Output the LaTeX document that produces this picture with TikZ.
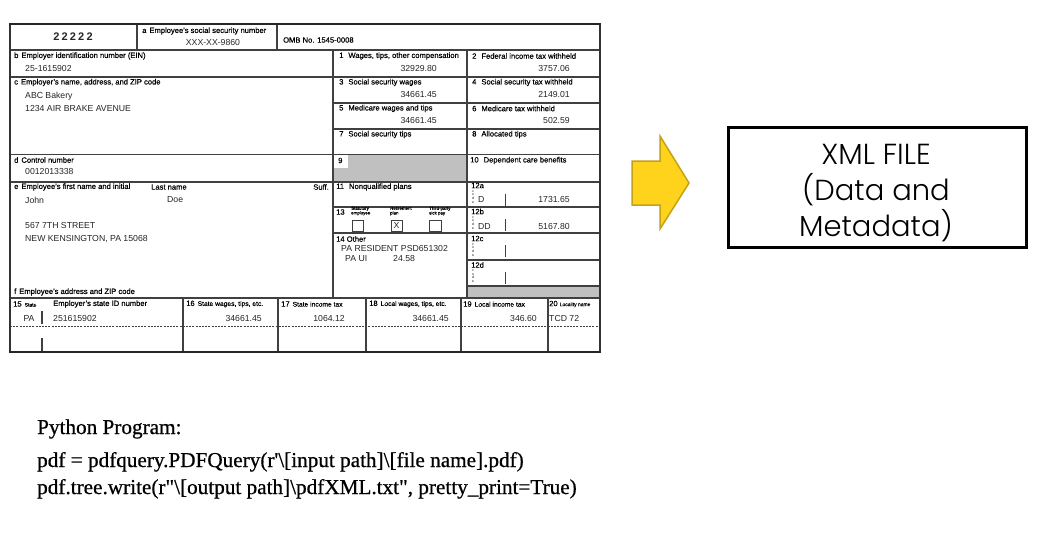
\documentclass[tikz,border=0pt]{standalone}
\usepackage{fontspec}
\setmainfont{Liberation Serif}
\newfontfamily\pyfont[FakeBold=0.7]{Liberation Serif}
\newfontfamily\formfont{Liberation Sans}
\newfontfamily\lblfont[FakeBold=0.4]{Liberation Sans}
\newfontfamily\xmlfont{Poppins Light}
\definecolor{boxgray}{RGB}{192,192,192}
\definecolor{arrowfill}{RGB}{255,210,28}
\definecolor{arrowedge}{RGB}{196,162,20}
\tikzset{
  lbl/.style={anchor=west, inner sep=0pt, font=\lblfont\fontsize{7.6}{8}\selectfont},
  val/.style={anchor=west, inner sep=0pt, font=\formfont\fontsize{8.7}{10}\selectfont, text=black!85},
  valr/.style={val, anchor=east},
  tinylbl/.style={anchor=north west, inner sep=0pt, align=left, font=\lblfont\fontsize{4.4}{4.6}\selectfont},
  codes/.style={anchor=north, inner sep=0pt, align=center, font=\formfont\fontsize{3.4}{3.7}\selectfont},
  grid/.style={draw=black!75, line width=1.2pt},
  frameline/.style={draw=black!85, line width=2.2pt},
  sideline/.style={draw=black!80, line width=1.5pt},
  chk/.style={draw=black!75, line width=0.8pt},
  py/.style={anchor=base west, inner sep=0pt, font=\pyfont\fontsize{21.2}{24}\selectfont},
  xmlbox/.style={draw=black, line width=3pt, minimum width=298pt, minimum height=120pt, inner sep=0pt},
  xmltext/.style={align=center, inner sep=0pt, font=\xmlfont\fontsize{29}{36}\selectfont}
}
\newcommand{\sm}[1]{{\fontsize{6.7}{7}\selectfont #1}}
\newcommand{\xs}[1]{{\fontsize{5}{5}\selectfont #1}}
\begin{document}
\begin{tikzpicture}[x=1pt,y=-1pt]
\useasboundingbox (0,0) rectangle (1039,546);
\fill[white] (0,0) rectangle (1039,546);

% ---------- gray areas ----------
\fill[boxgray] (348,155) rectangle (467,182);
\fill[boxgray] (333,168) rectangle (348,182);
\fill[boxgray] (467,286) rectangle (600,298);

% ---------- form rules ----------
\draw[grid] (137,24) -- (137,50);
\draw[grid] (277,24) -- (277,50);
\draw[grid] (10,50) -- (600,50);
\draw[grid] (333,50) -- (333,298);
\draw[grid] (467,50) -- (467,298);
\draw[grid] (10,77) -- (600,77);
\draw[grid] (333,103) -- (600,103);
\draw[grid] (333,129) -- (600,129);
\draw[grid] (10,154.5) -- (600,154.5);
\draw[grid] (10,182) -- (600,182);
\draw[grid] (333,207) -- (600,207);
\draw[grid] (333,233) -- (600,233);
\draw[grid] (467,260) -- (600,260);
\draw[grid] (467,286) -- (600,286);
\draw[grid] (10,298) -- (600,298);
\foreach \xx in {183,278,366,461,548} \draw[grid] (\xx,298) -- (\xx,352);
\draw[grid] (42,311) -- (42,324);
\draw[grid] (42,338) -- (42,352);
\draw[draw=black!75, line width=0.9pt, dash pattern=on 2pt off 1.2pt] (10,326) -- (600,326);
\foreach \yy in {182,207,233,260} \draw[draw=black!75, line width=0.9pt] (505,\yy+12) -- (505,\yy+24);
% frame
\draw[sideline] (10,24) -- (10,352);
\draw[sideline] (600,24) -- (600,352);
\draw[frameline] (9,24) -- (601,24);
\draw[frameline] (9,352) -- (601,352);

% check boxes
\draw[chk] (352,220) rectangle (363,231);
\draw[chk] (391,220) rectangle (402,231);
\draw[chk] (429,220) rectangle (441,231);

% ---------- top row ----------
\node[inner sep=0pt, font=\formfont\bfseries\fontsize{11}{12}\selectfont, text=black!85] (n22222) at (73,37) {2\hspace{2.2pt}2\hspace{2.2pt}2\hspace{2.2pt}2\hspace{2.2pt}2};
\node[lbl] (la) at (142,31) {a\hspace{3pt}Employee’s social security number};
\node[val, anchor=center] (va) at (213,42.5) {XXX-XX-9860};
\node[lbl] (omb) at (283,40) {OMB No. 1545-0008};

% ---------- left column ----------
\node[lbl] (lb) at (14,56) {b\hspace{3pt}Employer identification number (EIN)};
\node[val] (vb) at (25,68.5) {25-1615902};
\node[lbl] (lc) at (14,82.5) {c\hspace{3pt}Employer’s name, address, and ZIP code};
\node[val] (vc1) at (25,96) {ABC Bakery};
\node[val] (vc2) at (25,109) {1234 AIR BRAKE AVENUE};
\node[lbl] (ld) at (14,160) {d\hspace{3pt}Control number};
\node[val] (vd) at (25,172) {0012013338};
\node[lbl] (le) at (14,187) {e\hspace{3pt}Employee’s first name and initial};
\node[lbl] (lln) at (151,187) {Last name};
\node[lbl, anchor=east] (lsuff) at (329,187) {Suff.};
\node[val] (ve1) at (25,200) {John};
\node[val] (ve2) at (167,200) {Doe};
\node[val] (ve3) at (25,226) {567 7TH STREET};
\node[val] (ve4) at (25,239.5) {NEW KENSINGTON, PA 15068};
\node[lbl] (lf) at (14,292) {f\hspace{3pt}Employee’s address and ZIP code};

% ---------- right columns ----------
\node[lbl] (l1) at (339,56) {1\hspace{5pt}Wages, tips, other compensation};
\node[valr] (v1) at (437,68.5) {32929.80};
\node[lbl] (l2) at (472,56) {2\hspace{5pt}Federal income tax withheld};
\node[valr] (v2) at (570,68.5) {3757.06};
\node[lbl] (l3) at (339,82.5) {3\hspace{5pt}Social security wages};
\node[valr] (v3) at (437,95) {34661.45};
\node[lbl] (l4) at (472,82.5) {4\hspace{5pt}Social security tax withheld};
\node[valr] (v4) at (570,95) {2149.01};
\node[lbl] (l5) at (339,108.5) {5\hspace{5pt}Medicare wages and tips};
\node[valr] (v5) at (437,121) {34661.45};
\node[lbl] (l6) at (472,108.5) {6\hspace{5pt}Medicare tax withheld};
\node[valr] (v6) at (570,121) {502.59};
\node[lbl] (l7) at (339,134.5) {7\hspace{5pt}Social security tips};
\node[lbl] (l8) at (472,134.5) {8\hspace{5pt}Allocated tips};
\node[lbl] (l9) at (338,160.5) {9};
\node[lbl] (l10) at (470,160.5) {10\hspace{5pt}Dependent care benefits};
\node[lbl] (l11) at (336,187) {11\hspace{5pt}Nonqualified plans};
\node[lbl] (l13) at (336,212) {13};
\node[tinylbl] (t13a) at (351,206.5) {Statutory\\employee};
\node[tinylbl] (t13b) at (390,206.5) {Retirement\\plan};
\node[tinylbl] (t13c) at (429,206.5) {Third-party\\sick pay};
\node[val, anchor=center] (x13) at (396.5,225.5) {X};
\node[lbl] (l14) at (336,239) {14 Other};
\node[val] (v14a) at (341,249) {PA RESIDENT PSD651302};
\node[val] (v14b) at (345,259) {PA UI};
\node[val] (v14c) at (393,259) {24.58};

\node[lbl] (l12a) at (471,185.5) {12a};
\node[codes] (c12a) at (473,190) {c\\o\\d\\e};
\node[val] (v12a) at (478,200) {D};
\node[valr] (w12a) at (570,200) {1731.65};
\node[lbl] (l12b) at (471,211.5) {12b};
\node[codes] (c12b) at (473,216) {c\\o\\d\\e};
\node[val] (v12b) at (478,227) {DD};
\node[valr] (w12b) at (570,227) {5167.80};
\node[lbl] (l12c) at (471,238.5) {12c};
\node[codes] (c12c) at (473,243) {c\\o\\d\\e};
\node[lbl] (l12d) at (471,265) {12d};
\node[codes] (c12d) at (473,269.5) {c\\o\\d\\e};

% ---------- bottom rows ----------
\node[lbl] (l15) at (13,304) {15\hspace{3pt}\xs{State}};
\node[lbl] (l15b) at (53,304) {Employer’s state ID number};
\node[lbl] (l16) at (186,304) {16\hspace{3pt}\sm{State wages, tips, etc.}};
\node[lbl] (l17) at (281,304) {17\hspace{3pt}\sm{State income tax}};
\node[lbl] (l18) at (369,304) {18\hspace{3pt}\sm{Local wages, tips, etc.}};
\node[lbl] (l19) at (463,304) {19\hspace{3pt}\sm{Local income tax}};
\node[lbl] (l20) at (549,304) {20\hspace{2pt}\xs{Locality name}};
\node[val, anchor=center] (vpa) at (29,319) {PA};
\node[val] (vid) at (53,319) {251615902};
\node[valr] (v16) at (262,319) {34661.45};
\node[valr] (v17) at (345,319) {1064.12};
\node[valr] (v18) at (449,319) {34661.45};
\node[valr] (v19) at (537,319) {346.60};
\node[val] (v20) at (549,319) {TCD 72};

% ---------- arrow ----------
\draw[fill=arrowfill, draw=arrowedge, line width=1.5pt, line join=miter]
  (632,161) -- (660,161) -- (660,136) -- (689,183) -- (660,229) -- (660,205) -- (632,205) -- cycle;

% ---------- XML file box ----------
\node[xmlbox] (xml) at (877,187) {};
\node[xmltext] (xmltxt) at (876,193) {XML FILE\\(Data and\\Metadata)};

% ---------- Python text ----------
\node[py] (pyhead) at (37,434) {Python Program:};
\node[py] (pyl1) at (37,467) {pdf = pdfquery.PDFQuery(r\textquotesingle\textbackslash[input path]\textbackslash[file name].pdf)};
\node[py] (pyl2) at (37,494) {pdf.tree.write(r\textquotedbl\textbackslash[output path]\textbackslash pdfXML.txt\textquotedbl, pretty\_print=True)};
\end{tikzpicture}
\end{document}
